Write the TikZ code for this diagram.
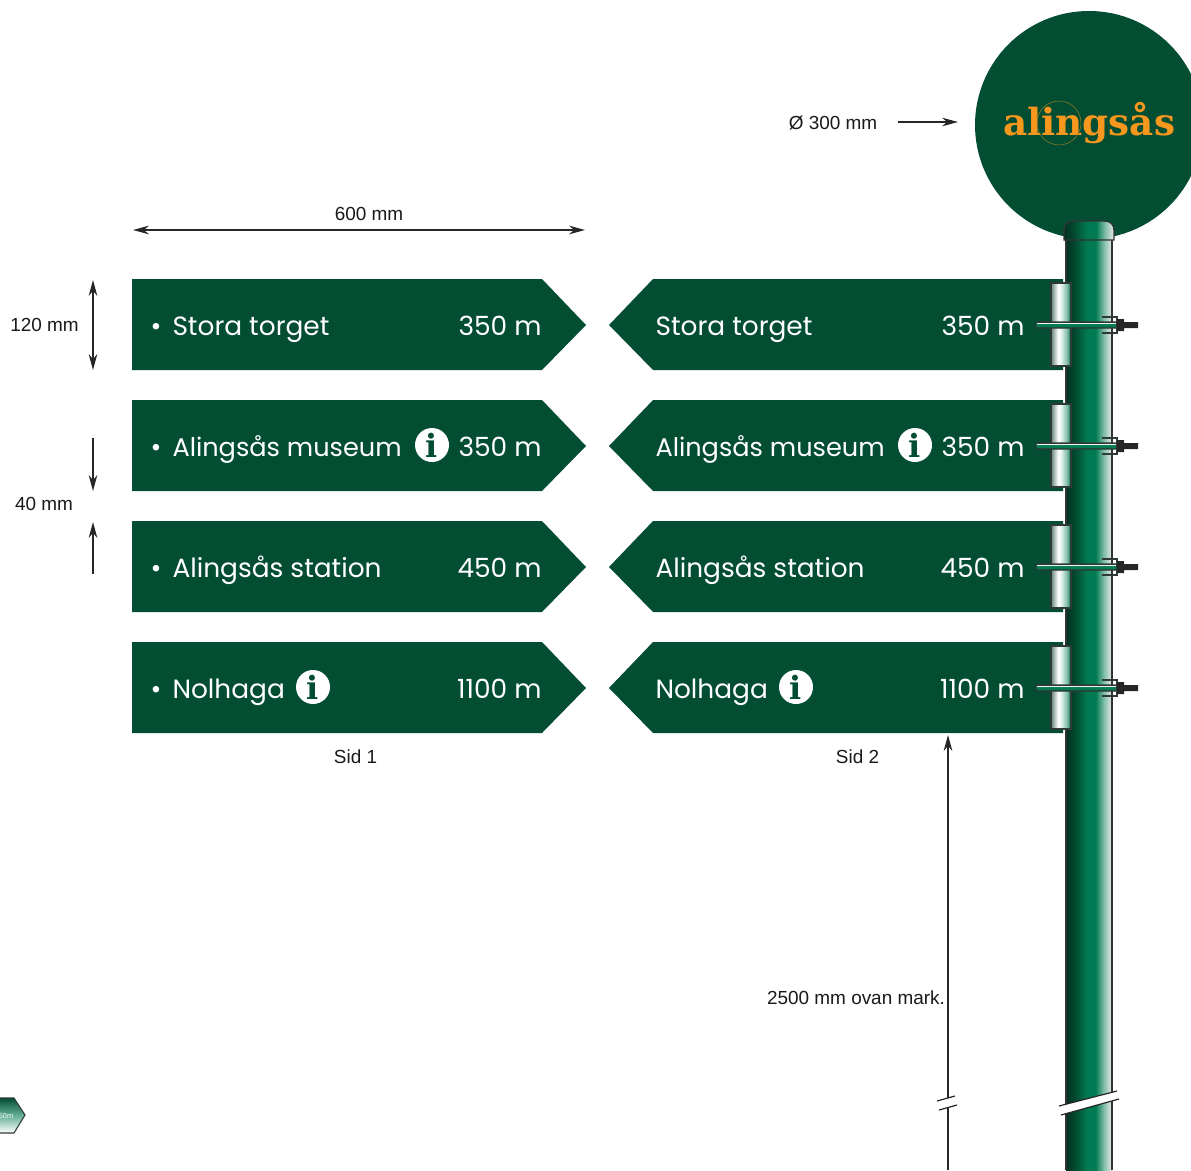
\documentclass[tikz,border=0pt]{standalone}
\usepackage{fontspec}
\setmainfont{Liberation Sans}
\newfontfamily\signfont{Poppins}
\newfontfamily\logofont{DejaVu Serif}
\usetikzlibrary{arrows.meta}
\definecolor{signgreen}{HTML}{034E32}
\definecolor{logoorange}{HTML}{F7971D}
\definecolor{poledark}{HTML}{00311F}
\definecolor{polegreen}{HTML}{007A52}
\definecolor{clampgrey}{HTML}{2E3A36}
\pgfdeclarehorizontalshading{poleshade}{100bp}{color(0bp)=(poledark); color(25bp)=(poledark); color(36bp)=(signgreen); color(48bp)=(polegreen); color(57bp)=(polegreen); color(66bp)=(polegreen!50!white); color(75bp)=(white!92!black); color(100bp)=(white!92!black)}
\pgfdeclarehorizontalshading{bracketshade}{100bp}{color(0bp)=(poledark!60!white); color(25bp)=(poledark!60!white); color(43bp)=(white); color(50bp)=(white!90!polegreen); color(65bp)=(polegreen!50!white); color(75bp)=(polegreen!85!black); color(100bp)=(polegreen!85!black)}
\pgfdeclareverticalshading{tagshade}{100bp}{color(0bp)=(white); color(25bp)=(white); color(50bp)=(polegreen!60!white); color(75bp)=(signgreen); color(100bp)=(signgreen)}
\pgfdeclareverticalshading{boltshade}{100bp}{color(0bp)=(clampgrey); color(25bp)=(clampgrey); color(38bp)=(polegreen); color(58bp)=(polegreen); color(66bp)=(white); color(75bp)=(clampgrey); color(100bp)=(clampgrey)}
\tikzset{every picture/.style={line width=0.75pt},
  signshape/.style={fill=signgreen,draw=none},
  signtext/.style={inner sep=0pt,text=white,font=\signfont\fontsize{19.8}{19.8}\selectfont},
  museumtext/.style={signtext,font=\signfont\fontsize{19.2}{19.2}\selectfont},
  infoicon/.style={circle,fill=white,inner sep=0pt,minimum size=25.5pt,text=signgreen,font=\logofont\bfseries\fontsize{24}{24}\selectfont},
  dimtext/.style={inner sep=0pt,text=black!90,font=\fontsize{14.2}{14.2}\selectfont},
  dimline/.style={draw=black!85,line width=0.9pt,-{Stealth[length=12pt,width=6.5pt]}},
  dimboth/.style={draw=black!85,line width=0.9pt,{Stealth[length=12pt,width=6.5pt]}-{Stealth[length=12pt,width=6.5pt]}},
  bracketshape/.style={shading=bracketshade,draw=clampgrey,line width=0.9pt},
  boltshape/.style={draw=clampgrey,line width=0.8pt,shading=boltshade,rounded corners=1.5pt},
  clampline/.style={draw=clampgrey,line width=1.3pt},
  boltend/.style={fill=black!85,draw=none}}

\begin{document}
\begin{tikzpicture}[x=0.75pt,y=0.75pt,yscale=-1,xscale=1]
\useasboundingbox (0,0) rectangle (1191,1170);

%Shape: Round sign
\fill [signgreen] (1089,125) circle (114);
% Logo
\draw (1089,123) node (logo) [inner sep=0pt,text=logoorange,font=\logofont\bfseries\fontsize{28}{28}\selectfont] {alingsås};
\draw [draw=logoorange!60!signgreen,line width=0.4pt] (1059,123) circle (22);

%Shape: Pole
\shade [shading=poleshade] (1066,240) rectangle (1112,1170);
\draw [black!80,line width=0.8pt] (1066,240) -- (1066,1170);
\draw [black!80,line width=0.8pt] (1112,240) -- (1112,1170);
\draw [black!80,line width=0.9pt,shading=poleshade] (1064,240) -- (1064,231) .. controls (1064,224) and (1068,221) .. (1074,221) -- (1104,221) .. controls (1110,221) and (1114,224) .. (1114,231) -- (1114,240) -- cycle ;
%Pole break
\fill [white] (1059,1106) -- (1117,1091) -- (1119,1099) -- (1061,1115) -- cycle ;
\draw [black!85,line width=0.9pt] (1059,1106) -- (1117,1091) ;
\draw [black!85,line width=0.9pt] (1061,1115) -- (1119,1099) ;

%Shape: Signs side 1
\draw [signshape] (132,279) -- (542,279) -- (586,325) -- (542,370) -- (132,370) -- cycle ;
\draw [signshape] (132,400) -- (542,400) -- (586,446) -- (542,491) -- (132,491) -- cycle ;
\draw [signshape] (132,521) -- (542,521) -- (586,567) -- (542,612) -- (132,612) -- cycle ;
\draw [signshape] (132,642) -- (542,642) -- (586,688) -- (542,733) -- (132,733) -- cycle ;
%Shape: Signs side 2
\draw [signshape] (1063,279) -- (653,279) -- (609,325) -- (653,370) -- (1063,370) -- cycle ;
\draw [signshape] (1063,400) -- (653,400) -- (609,446) -- (653,491) -- (1063,491) -- cycle ;
\draw [signshape] (1063,521) -- (653,521) -- (609,567) -- (653,612) -- (1063,612) -- cycle ;
\draw [signshape] (1063,642) -- (653,642) -- (609,688) -- (653,733) -- (1063,733) -- cycle ;

% Text Node
\draw (156,329) node (dotA) [signtext] {•};
\draw (172,335) node (storaA) [signtext,anchor=base west] {Stora torget};
\draw (542,335) node (distA) [signtext,anchor=base east] {350 m};
\draw (156,450) node (dotB) [signtext] {•};
\draw (172,456) node (museumA) [museumtext,anchor=base west] {Alingsås museum};
\draw (432,445) node (infoB) [infoicon] {i};
\draw (542,456) node (distB) [signtext,anchor=base east] {350 m};
\draw (156,571) node (dotC) [signtext] {•};
\draw (172,577) node (stationA) [signtext,anchor=base west] {Alingsås station};
\draw (542,577) node (distC) [signtext,anchor=base east] {450 m};
\draw (156,692) node (dotD) [signtext] {•};
\draw (172,698) node (nolhagaA) [signtext,anchor=base west] {Nolhaga};
\draw (313,687) node (infoD) [infoicon] {i};
\draw (542,698) node (distD) [signtext,anchor=base east] {1100 m};
% Text Node
\draw (655,335) node (storaE) [signtext,anchor=base west] {Stora torget};
\draw (1025,335) node (distE) [signtext,anchor=base east] {350 m};
\draw (655,456) node (museumF) [museumtext,anchor=base west] {Alingsås museum};
\draw (915,445) node (infoF) [infoicon] {i};
\draw (1025,456) node (distF) [signtext,anchor=base east] {350 m};
\draw (655,577) node (stationG) [signtext,anchor=base west] {Alingsås station};
\draw (1025,577) node (distG) [signtext,anchor=base east] {450 m};
\draw (655,698) node (nolhagaH) [signtext,anchor=base west] {Nolhaga};
\draw (796,687) node (infoH) [infoicon] {i};
\draw (1025,698) node (distH) [signtext,anchor=base east] {1100 m};

%Shape: Clamps
\draw [bracketshape] (1051,283) rectangle (1071,366) ;
\draw [boltshape] (1036,322) rectangle (1118,328) ;
\draw [clampline] (1102,317) -- (1117,317) -- (1117,333) -- (1102,333) ;
\fill [boltend] (1117,319) rectangle (1124,331) (1124,322) rectangle (1138,328) ;
\draw [bracketshape] (1051,404) rectangle (1071,487) ;
\draw [boltshape] (1036,443) rectangle (1118,449) ;
\draw [clampline] (1102,438) -- (1117,438) -- (1117,454) -- (1102,454) ;
\fill [boltend] (1117,440) rectangle (1124,452) (1124,443) rectangle (1138,449) ;
\draw [bracketshape] (1051,525) rectangle (1071,608) ;
\draw [boltshape] (1036,564) rectangle (1118,570) ;
\draw [clampline] (1102,559) -- (1117,559) -- (1117,575) -- (1102,575) ;
\fill [boltend] (1117,561) rectangle (1124,573) (1124,564) rectangle (1138,570) ;
\draw [bracketshape] (1051,646) rectangle (1071,729) ;
\draw [boltshape] (1036,685) rectangle (1118,691) ;
\draw [clampline] (1102,680) -- (1117,680) -- (1117,696) -- (1102,696) ;
\fill [boltend] (1117,682) rectangle (1124,694) (1124,685) rectangle (1138,691) ;

%Dimensions
\draw (369,214) node (widthlabel) [dimtext] {600 mm};
\coordinate (widthL) at (133,230);
\coordinate (widthR) at (585,230);
\draw [dimboth] (widthL) -- (widthR) ;
\draw (44.5,325) node (heightlabel) [dimtext] {120 mm};
\coordinate (heightT) at (93,280);
\coordinate (heightB) at (93,370);
\draw [dimboth] (heightT) -- (heightB) ;
\draw (44,504) node (gaplabel) [dimtext] {40 mm};
\coordinate (gapA) at (93,438);
\coordinate (gapB) at (93,491);
\coordinate (gapC) at (93,574);
\coordinate (gapD) at (93,522);
\draw [dimline] (gapA) -- (gapB) ;
\draw [dimline] (gapC) -- (gapD) ;
\draw (833,123) node (roundlabel) [dimtext] {Ø 300 mm};
\coordinate (roundA) at (898,122);
\coordinate (roundB) at (958,122);
\draw [dimline] (roundA) -- (roundB) ;
\draw (355.5,757) node (sidA) [dimtext] {Sid 1};
\draw (857.5,757) node (sidB) [dimtext] {Sid 2};
\draw (856,998) node (groundlabel) [dimtext] {2500 mm ovan mark.};
\coordinate (groundT) at (948,735);
\coordinate (groundB) at (948,1170);
\draw [dimline] (groundB) -- (groundT) ;
\fill [white] (936,1101) -- (956,1096) -- (958,1105) -- (938,1110) -- cycle ;
\draw [black!85,line width=0.9pt] (937,1101) -- (955,1096) ;
\draw [black!85,line width=0.9pt] (939,1110) -- (957,1105) ;

%Shape: Small tag
\draw [draw=clampgrey,line width=0.8pt,shading=tagshade] (-2,1098) -- (14,1098) -- (25,1115) -- (14,1133) -- (-2,1133) -- cycle ;
\draw (6,1116) node (tagtext) [inner sep=0pt,text=white,font=\fontsize{5.5}{5.5}\selectfont] {50m};

\end{tikzpicture}
\end{document}
